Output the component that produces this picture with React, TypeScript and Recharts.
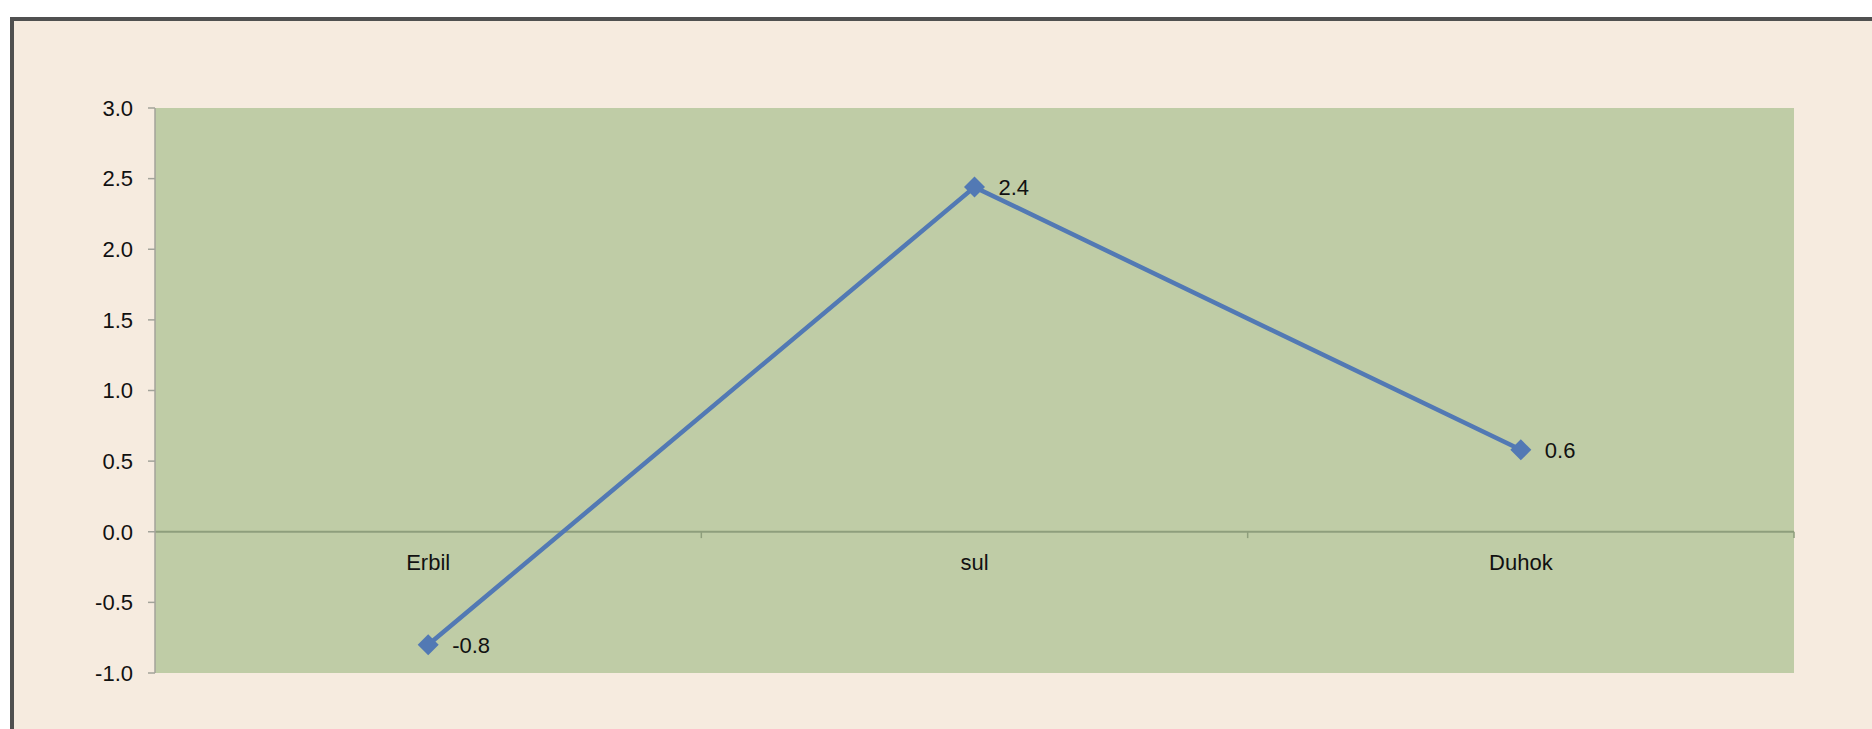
import React from "react";
import {
  LineChart,
  Line,
  XAxis,
  YAxis,
  CartesianGrid,
  ReferenceLine,
  ReferenceDot,
  LabelList,
} from "recharts";

const categories = ["Erbil", "sul", "Duhok"];
const values = [-0.8, 2.44, 0.58];
const yTicks = [-1.0, -0.5, 0.0, 0.5, 1.0, 1.5, 2.0, 2.5, 3.0];

const data = categories.map((name, i) => ({ name, value: values[i] }));

const FONT = '"Liberation Sans", Arial, sans-serif';
const LINE_COLOR = "#5279B4";
const ZERO_COLOR = "#8E9E7C";

// small tick marks under the zero line, at the edges between categories
const boundaryTicks = [
  { cat: "sul", position: "start" },
  { cat: "Duhok", position: "start" },
  { cat: "Duhok", position: "end" },
];

const Diamond = (props: any) => {
  const { cx, cy } = props;
  if (cx == null || cy == null) return null;
  const r = 10.5;
  return (
    <path
      d={`M${cx},${cy - r} L${cx + r},${cy} L${cx},${cy + r} L${cx - r},${cy} Z`}
      fill={LINE_COLOR}
      stroke="none"
    />
  );
};

export default function App() {
  return (
    <div
      style={{
        position: "absolute",
        left: 0,
        top: 0,
        width: 1872,
        height: 729,
        background: "#ffffff",
        overflow: "hidden",
      }}
    >
      <div
        style={{
          position: "absolute",
          left: 10,
          top: 17,
          right: -20,
          bottom: -20,
          background: "#F6EBDF",
          borderLeft: "4px solid #505050",
          borderTop: "4px solid #505050",
        }}
      />
      <div style={{ position: "absolute", left: 0, top: 0 }}>
        <LineChart
          width={1872}
          height={729}
          data={data}
          margin={{ top: 108, right: 78, bottom: 56, left: 0 }}
        >
          <CartesianGrid fill="#BFCCA6" horizontal={false} vertical={false} />
          <XAxis dataKey="name" scale="band" hide />
          <YAxis
            width={155}
            domain={[-1, 3]}
            ticks={yTicks}
            interval={0}
            tickFormatter={(v: number) => v.toFixed(1)}
            axisLine={{ stroke: "#A3A39A", strokeWidth: 1.5 }}
            tickLine={{ stroke: "#A3A39A", strokeWidth: 1.5 }}
            tickSize={7}
            tickMargin={15}
            tick={{ fill: "#111", fontSize: 22, fontFamily: FONT }}
          />
          <ReferenceLine y={0} stroke={ZERO_COLOR} strokeWidth={2} />
          {boundaryTicks.map((b, i) => (
            <ReferenceLine
              key={`bt-${i}`}
              position={b.position as any}
              segment={[
                { x: b.cat, y: 0 },
                { x: b.cat, y: -0.045 },
              ]}
              stroke={ZERO_COLOR}
              strokeWidth={1.5}
            />
          ))}
          {categories.map((c) => (
            <ReferenceDot
              key={`cat-${c}`}
              x={c}
              y={0}
              r={0}
              stroke="none"
              fill="none"
              label={{
                value: c,
                position: "bottom",
                offset: 23,
                fill: "#111",
                fontSize: 22,
                fontFamily: FONT,
              }}
            />
          ))}
          <Line
            type="linear"
            dataKey="value"
            stroke={LINE_COLOR}
            strokeWidth={4.5}
            dot={<Diamond />}
            activeDot={false}
            isAnimationActive={false}
          >
            <LabelList
              dataKey="value"
              position="right"
              offset={24}
              formatter={(v: any) => Number(v).toFixed(1)}
              fill="#111"
              fontSize={22}
              fontFamily={FONT}
            />
          </Line>
        </LineChart>
      </div>
    </div>
  );
}
